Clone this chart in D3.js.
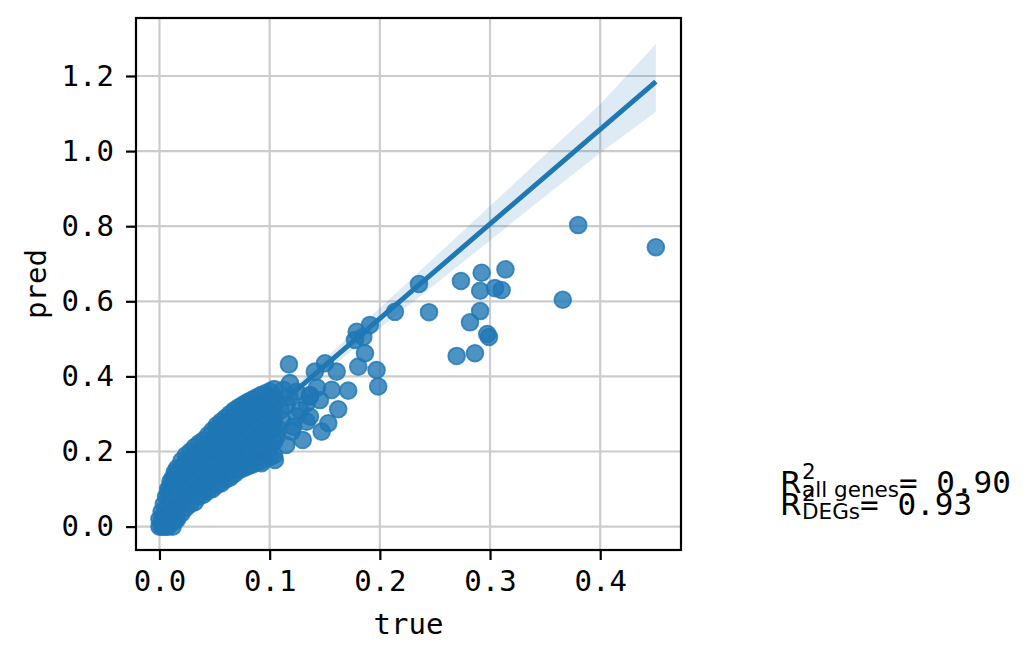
<!DOCTYPE html>
<html>
<head>
<meta charset="utf-8">
<script src="https://cdn.jsdelivr.net/npm/d3@7"></script>
<style>
  html, body { margin: 0; padding: 0; background: #ffffff; }
  svg { display: block; }
</style>
</head>
<body>
<svg id="chart" width="1027" height="660"></svg>
<script>
// ---------------- data ----------------
const xTicks = [0.0, 0.1, 0.2, 0.3, 0.4];
const yTicks = [0.0, 0.2, 0.4, 0.6, 0.8, 1.0, 1.2];
const xLabel = "true";
const yLabel = "pred";

// dense core of points: [true value, [pred values]]
const denseCols = [
  [0.000, [0.0, 0.02]],
  [0.002, [0.0, 0.015, 0.04]],
  [0.004, [0.0, 0.03, 0.06]],
  [0.006, [0.0, 0.045, 0.08]],
  [0.008, [0.0, 0.03, 0.06, 0.09, 0.10]],
  [0.010, [0.015, 0.045, 0.075, 0.105, 0.12]],
  [0.012, [0.0, 0.03, 0.06, 0.09, 0.12, 0.13]],
  [0.014, [0.015, 0.045, 0.075, 0.105, 0.135, 0.145]],
  [0.016, [0.02, 0.05, 0.08, 0.11, 0.14, 0.155]],
  [0.020, [0.035, 0.065, 0.095, 0.125, 0.155, 0.175]],
  [0.024, [0.05, 0.08, 0.11, 0.14, 0.17, 0.19]],
  [0.028, [0.06, 0.09, 0.12, 0.15, 0.18, 0.20]],
  [0.032, [0.065, 0.095, 0.125, 0.155, 0.185, 0.212]],
  [0.036, [0.08, 0.11, 0.14, 0.17, 0.20, 0.222]],
  [0.040, [0.085, 0.115, 0.145, 0.175, 0.205, 0.23]],
  [0.044, [0.095, 0.125, 0.155, 0.185, 0.215, 0.243]],
  [0.048, [0.10, 0.13, 0.16, 0.19, 0.22, 0.256]],
  [0.052, [0.11, 0.14, 0.17, 0.20, 0.23, 0.26, 0.27]],
  [0.056, [0.115, 0.145, 0.175, 0.205, 0.235, 0.265, 0.28]],
  [0.060, [0.125, 0.155, 0.185, 0.215, 0.245, 0.275, 0.29]],
  [0.064, [0.13, 0.16, 0.19, 0.22, 0.25, 0.28, 0.30]],
  [0.068, [0.14, 0.17, 0.20, 0.23, 0.26, 0.29, 0.31]],
  [0.072, [0.15, 0.18, 0.21, 0.24, 0.27, 0.30, 0.318]],
  [0.076, [0.155, 0.185, 0.215, 0.245, 0.275, 0.305, 0.325]],
  [0.080, [0.16, 0.19, 0.22, 0.25, 0.28, 0.31, 0.332]],
  [0.084, [0.165, 0.195, 0.225, 0.255, 0.285, 0.315, 0.338]],
  [0.088, [0.17, 0.20, 0.23, 0.26, 0.29, 0.32, 0.344]],
  [0.092, [0.175, 0.205, 0.235, 0.265, 0.295, 0.325, 0.35]],
  [0.096, [0.18, 0.21, 0.24, 0.27, 0.30, 0.33, 0.355]],
  [0.100, [0.185, 0.215, 0.25, 0.28, 0.31, 0.34, 0.36]],
  [0.104, [0.19, 0.225, 0.26, 0.29, 0.32, 0.345, 0.366]]
];

// points around the edge of the core
const midPoints = [
  [0.1123, 0.364], [0.1184, 0.382], [0.1245, 0.359], [0.1366, 0.346], [0.1336, 0.3285],
  [0.1366, 0.293], [0.1245, 0.293], [0.1214, 0.266], [0.1064, 0.24], [0.111, 0.284],
  [0.1154, 0.324], [0.103, 0.337], [0.103, 0.284], [0.115, 0.2175], [0.1275, 0.31],
  [0.1456, 0.337], [0.143, 0.37], [0.093, 0.2175], [0.082, 0.191], [0.110, 0.31],
  [0.118, 0.345], [0.108, 0.26]
];

// scattered points
const outlierPoints = [
  [0.4505, 0.744], [0.380, 0.803], [0.366, 0.604], [0.314, 0.685], [0.3105, 0.630],
  [0.3045, 0.635], [0.291, 0.628], [0.2924, 0.676], [0.2736, 0.654], [0.291, 0.574],
  [0.2818, 0.544], [0.2975, 0.513], [0.299, 0.505], [0.2697, 0.4545], [0.2863, 0.4617],
  [0.2355, 0.646], [0.2446, 0.571], [0.2137, 0.572], [0.191, 0.537], [0.179, 0.519],
  [0.1774, 0.497], [0.185, 0.505], [0.1865, 0.4617], [0.1804, 0.426], [0.197, 0.417],
  [0.1985, 0.373], [0.1713, 0.362], [0.1563, 0.364], [0.1608, 0.4127], [0.1502, 0.435],
  [0.141, 0.4127], [0.1175, 0.432], [0.1622, 0.3126], [0.1532, 0.2753], [0.1472, 0.2529],
  [0.130, 0.2308], [0.1366, 0.3506], [0.1336, 0.2796], [0.12, 0.2529], [0.1048, 0.1776],
  [0.0927, 0.1688]
];

// regression line and its confidence band
const fitX = [0.0, 0.4505];
const fitY = [0.0505, 1.185];
const ciX    = [0.00, 0.05, 0.10, 0.15, 0.20, 0.25, 0.30, 0.35, 0.40, 0.4505];
const ciLow  = [0.040, 0.170, 0.292, 0.410, 0.528, 0.645, 0.762, 0.880, 0.995, 1.105];
const ciHigh = [0.060, 0.182, 0.313, 0.447, 0.582, 0.718, 0.854, 0.990, 1.125, 1.285];

// annotation
const r2Subs = ["all genes", "DEGs"];
const r2Vals = ["0.90", "0.93"];

// ---------------- drawing ----------------
const blue = "#1f77b4";
const MONO = "DejaVu Sans Mono";
const SANS = "DejaVu Sans";
const svg = d3.select("#chart");
const M = {left: 136, right: 681, top: 18, bottom: 550};

const x = d3.scaleLinear().domain([-0.0213, 0.4733]).range([M.left, M.right]);
const y = d3.scaleLinear().domain([-0.0623, 1.3544]).range([M.bottom, M.top]);

const points = [];
denseCols.forEach(([tv, preds]) => preds.forEach(p => points.push([tv, p])));
midPoints.forEach(p => points.push(p));
outlierPoints.forEach(p => points.push(p));

// grid
const grid = svg.append("g");
grid.selectAll("line.gx").data(xTicks).join("line")
  .attr("x1", d => x(d)).attr("x2", d => x(d))
  .attr("y1", M.top).attr("y2", M.bottom)
  .attr("stroke", "#cccccc").attr("stroke-width", 2.2);
grid.selectAll("line.gy").data(yTicks).join("line")
  .attr("y1", d => y(d)).attr("y2", d => y(d))
  .attr("x1", M.left).attr("x2", M.right)
  .attr("stroke", "#cccccc").attr("stroke-width", 2.2);

// scatter
svg.append("g").selectAll("circle").data(points).join("circle")
  .attr("cx", d => x(d[0])).attr("cy", d => y(d[1]))
  .attr("r", 8.4)
  .attr("fill", blue).attr("fill-opacity", 0.8)
  .attr("stroke", blue).attr("stroke-opacity", 0.8).attr("stroke-width", 1.8);

// CI band
const band = ciX.map((v, i) => ({x: v, lo: ciLow[i], hi: ciHigh[i]}));
svg.append("path")
  .datum(band)
  .attr("d", d3.area().x(d => x(d.x)).y0(d => y(d.lo)).y1(d => y(d.hi)))
  .attr("fill", blue).attr("fill-opacity", 0.15);

// regression line
svg.append("path")
  .datum(fitX.map((v, i) => [v, fitY[i]]))
  .attr("d", d3.line().x(d => x(d[0])).y(d => y(d[1])))
  .attr("fill", "none").attr("stroke", blue).attr("stroke-width", 5);

// axes
const fs = 29;
const xAxis = d3.axisBottom(x).tickValues(xTicks).tickFormat(d3.format(".1f")).tickSizeOuter(0).tickSize(10).tickPadding(10);
const yAxis = d3.axisLeft(y).tickValues(yTicks).tickFormat(d3.format(".1f")).tickSizeOuter(0).tickSize(10).tickPadding(12);

const gx = svg.append("g").attr("transform", `translate(0,${M.bottom})`).call(xAxis);
const gy = svg.append("g").attr("transform", `translate(${M.left},0)`).call(yAxis);
[gx, gy].forEach(g => {
  g.select(".domain").remove();
  g.selectAll(".tick line").attr("stroke", "#000").attr("stroke-width", 2.2);
  g.selectAll(".tick text").style("font-family", MONO).style("font-size", fs + "px").attr("fill", "#000");
});

// frame
svg.append("rect")
  .attr("x", M.left).attr("y", M.top).attr("width", M.right - M.left).attr("height", M.bottom - M.top)
  .attr("fill", "none").attr("stroke", "#000").attr("stroke-width", 2.2);

// axis labels
svg.append("text").attr("x", (M.left + M.right) / 2).attr("y", 634)
  .attr("text-anchor", "middle").style("font-family", MONO).style("font-size", fs + "px").text(xLabel);
svg.append("text").attr("transform", `translate(46,${(M.top + M.bottom) / 2}) rotate(-90)`)
  .attr("text-anchor", "middle").style("font-family", MONO).style("font-size", fs + "px").text(yLabel);

// R^2 annotation
const annX = 780, baseYs = [493, 515];
r2Subs.forEach((sub, i) => {
  const by = baseYs[i];
  const g = svg.append("g");
  const R = g.append("text").attr("x", annX).attr("y", by)
    .style("font-family", SANS).style("font-size", "31px").text("R");
  const rW = R.node().getComputedTextLength();
  const sup = g.append("text").attr("x", annX + rW + 0.5).attr("y", by - 14)
    .style("font-family", SANS).style("font-size", "21.5px").text("2");
  const subT = g.append("text").attr("x", annX + rW + 0.5).attr("y", by + 4)
    .style("font-family", SANS).style("font-size", "21.5px").text(sub);
  const end = annX + rW + 0.5 + Math.max(sup.node().getComputedTextLength(), subT.node().getComputedTextLength());
  g.append("text").attr("x", end).attr("y", by)
    .style("font-family", MONO).style("font-size", "31px").text("= " + r2Vals[i]);
});
</script>
</body>
</html>
